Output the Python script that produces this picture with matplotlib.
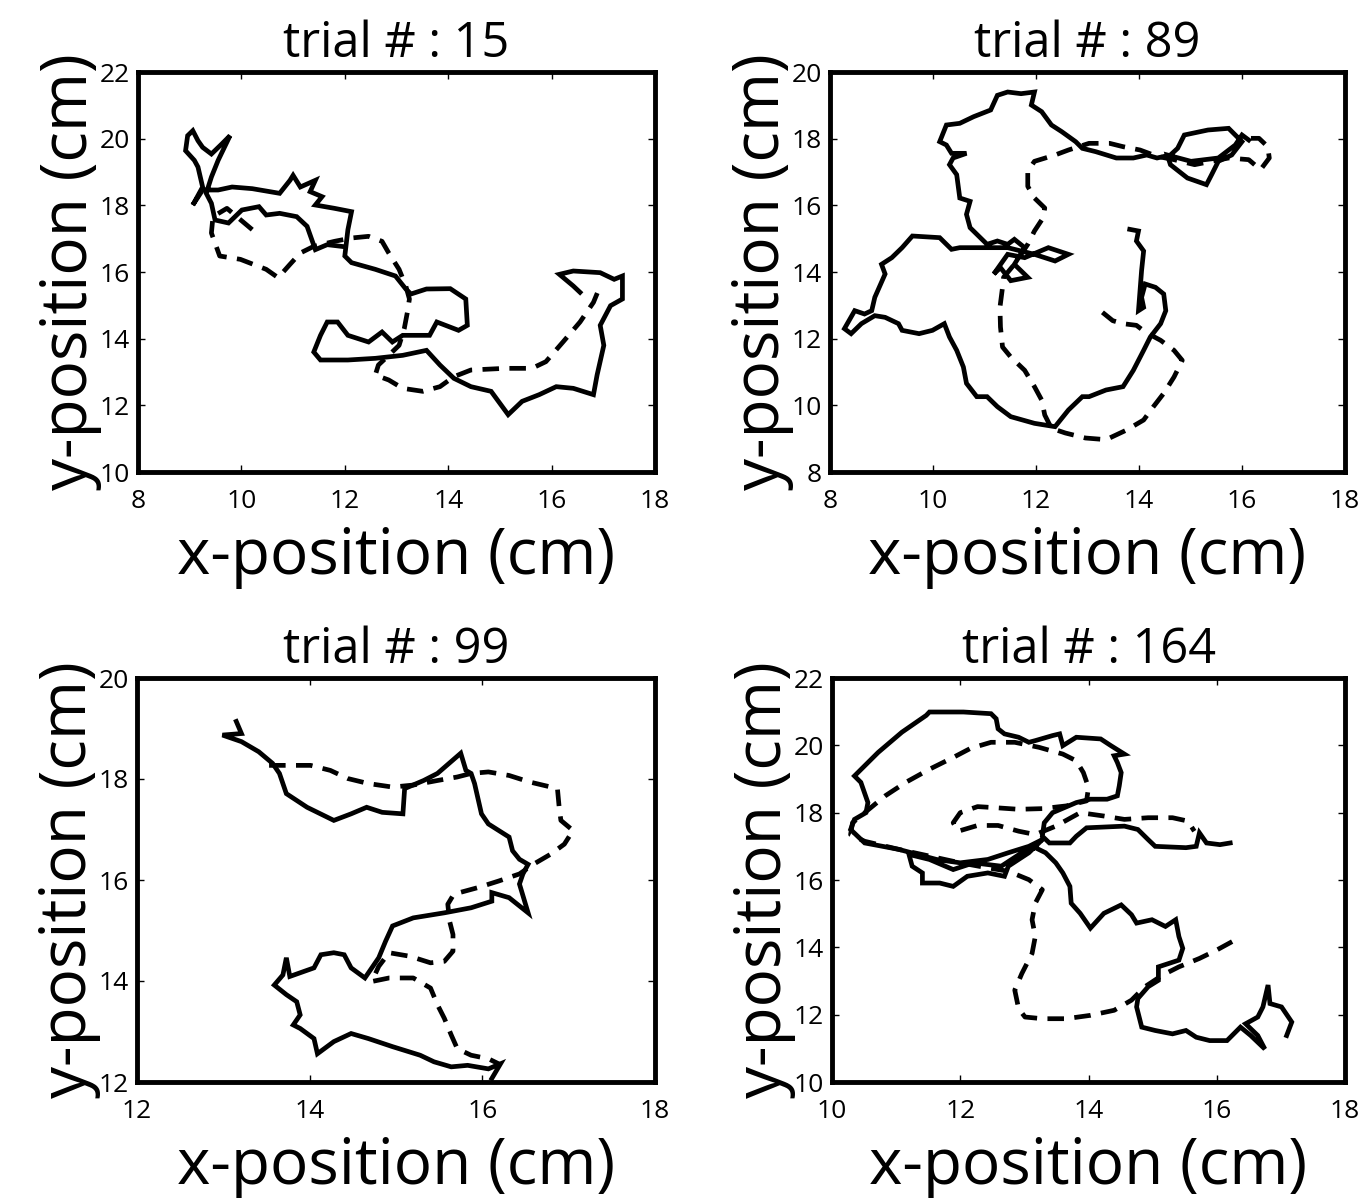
import matplotlib
matplotlib.use('Agg')
import matplotlib.pyplot as plt

plt.rcParams['font.family'] = ['Open Sans', 'DejaVu Sans']

# trial numbers and axis limits
trials = [15, 89, 99, 164]
xlims = [(8, 18), (8, 18), (12, 18), (10, 18)]
ylims = [(10, 22), (8, 20), (12, 20), (10, 22)]
xticks = [[8, 10, 12, 14, 16, 18], [8, 10, 12, 14, 16, 18], [12, 14, 16, 18], [10, 12, 14, 16, 18]]
yticks = [[10, 12, 14, 16, 18, 20, 22], [8, 10, 12, 14, 16, 18, 20], [12, 14, 16, 18, 20], [10, 12, 14, 16, 18, 20, 22]]

# trial 15
x_solid_15 = [11.93, 11.66, 11.43, 11.27, 11.07, 10.74, 10.48, 10.34, 10.01, 9.75, 9.49, 9.42,
              9.32, 9.42, 9.55, 9.78, 9.62, 9.42, 9.25, 9.16, 9.06, 8.96, 8.92, 9.09, 9.16, 9.25, 9.06,
              9.25, 9.55, 9.82, 10.21, 10.74, 10.94, 11.0, 11.14, 11.43, 11.33, 11.56, 11.43, 11.80,
              12.13, 12.06, 12.0, 12.13, 12.59, 12.98, 13.18, 13.28, 13.58, 14.04, 14.34, 14.37, 14.20,
              13.78, 13.64, 13.12, 12.92, 12.72, 12.46, 12.06, 11.86, 11.66, 11.53, 11.40, 11.53, 12.06,
              12.59, 13.12, 13.58, 13.84, 14.11, 14.44, 14.83, 15.16, 15.43, 15.76, 16.09, 16.42, 16.81,
              16.88, 17.01, 16.94, 17.14, 17.37, 17.37, 17.21, 16.94, 16.42, 16.15, 16.42, 16.55]
y_solid_15 = [16.77, 16.82, 16.67, 17.37, 17.66, 17.76, 17.71, 17.96, 17.86, 17.47, 17.56, 18.06,
              18.36, 18.85, 19.35, 20.09, 19.84, 19.54, 19.74, 19.94, 20.24, 20.09, 19.64, 19.35, 19.15, 18.55, 18.01,
              18.46, 18.46, 18.55, 18.50, 18.36, 18.75, 18.90, 18.55, 18.75, 18.41, 18.26, 18.01, 17.91,
              17.81, 17.27, 16.48, 16.28, 16.08, 15.88, 15.49, 15.34, 15.49, 15.50, 15.19, 14.40, 14.25,
              14.50, 14.10, 14.10, 13.90, 14.20, 13.90, 14.10, 14.50, 14.50, 14.10, 13.60, 13.36, 13.36,
              13.41, 13.50, 13.65, 13.21, 12.81, 12.56, 12.42, 11.72, 12.12, 12.32, 12.56, 12.51, 12.32,
              12.91, 13.80, 14.40, 14.99, 15.19, 15.88, 15.78, 15.98, 16.03, 15.93, 15.58, 15.39]
x_dash_15 = [10.21, 9.72, 9.45, 9.42, 9.58, 9.98, 10.48, 10.71, 10.94, 11.14, 11.40, 11.80, 12.13,
             12.46, 12.72, 12.85, 13.05, 13.18, 13.25, 13.21, 13.15, 13.05, 12.85, 12.65, 12.59, 12.85,
             13.12, 13.51, 13.84, 14.11, 14.44, 15.10, 15.62, 15.89, 16.22, 16.55, 16.81, 16.94]
y_dash_15 = [17.27, 17.91, 17.66, 17.17, 16.48, 16.38, 16.08, 15.83, 16.23, 16.57, 16.77, 16.92, 17.02,
             17.07, 16.92, 16.57, 16.08, 15.58, 15.19, 14.79, 14.30, 13.80, 13.50, 13.21, 12.91, 12.76,
             12.51, 12.42, 12.56, 12.86, 13.06, 13.11, 13.11, 13.31, 13.90, 14.50, 15.09, 15.58]

# trial 89
x_solid_89 = [16.13, 16.00, 15.87, 15.54, 15.01, 14.55, 14.61, 14.94, 15.31, 15.41, 15.54, 15.80, 16.00,
              15.74, 15.34, 14.88, 14.75, 14.61, 14.35, 14.15, 13.89, 13.56, 13.16, 12.90, 12.77, 12.50,
              12.30, 12.11, 11.91, 11.97, 11.71, 11.45, 11.25, 11.12, 10.79, 10.52, 10.26, 10.13, 10.26,
              10.36, 10.65, 10.39, 10.32, 10.46, 10.52, 10.72, 10.65, 10.72, 11.05, 11.25, 11.45, 11.58,
              11.78, 11.58, 11.84, 11.51, 11.31, 11.18, 11.45, 11.78, 12.24, 12.63, 12.37, 11.97, 11.45,
              11.12, 10.52, 10.36, 10.13, 9.60, 9.40, 9.20, 9.00, 9.07, 8.87, 8.81, 8.67, 8.48, 8.28, 8.41,
              8.61, 8.87, 9.07, 9.33, 9.40, 9.73, 9.99, 10.22, 10.32, 10.46, 10.59, 10.65, 10.85, 11.05,
              11.25, 11.51, 11.97, 12.37, 12.63, 12.90, 13.03, 13.36, 13.69, 13.89, 14.09, 14.22, 14.42,
              14.52, 14.48, 14.32, 14.12, 14.05, 14.09, 13.99, 14.02, 14.05, 14.09, 13.95, 13.99, 13.82]
y_solid_89 = [17.96, 18.11, 17.81, 17.42, 17.32, 17.51, 17.22, 16.82, 16.62, 16.92, 17.32, 17.51, 17.91,
              18.31, 18.26, 18.11, 17.71, 17.51, 17.42, 17.51, 17.42, 17.42, 17.61, 17.71, 17.91, 18.21,
              18.41, 18.81, 19.01, 19.40, 19.35, 19.40, 19.30, 18.86, 18.66, 18.46, 18.41, 17.91, 17.81,
              17.56, 17.56, 17.42, 17.22, 16.92, 16.22, 16.12, 15.73, 15.33, 14.83, 14.93, 14.83, 14.98,
              14.73, 14.23, 13.84, 13.74, 14.13, 13.94, 14.53, 14.43, 14.73, 14.53, 14.33, 14.53, 14.73,
              14.73, 14.73, 14.68, 15.03, 15.08, 14.73, 14.43, 14.23, 13.94, 13.24, 12.84, 12.74, 12.84, 12.30, 12.15,
              12.45, 12.69, 12.64, 12.45, 12.25, 12.15, 12.25, 12.45, 12.05, 11.65, 11.15, 10.66, 10.26, 10.26,
              9.96, 9.66, 9.46, 9.36, 9.86, 10.26, 10.26, 10.46, 10.56, 11.05, 11.65, 12.05, 12.45,
              12.84, 13.34, 13.54, 13.64, 13.24, 12.94, 12.84, 13.44, 14.04, 14.63, 14.93, 15.23, 15.28]
x_dash_89 = [13.29, 13.49, 13.69, 13.95, 14.12, 14.42, 14.68, 14.84, 14.68, 14.48, 14.28, 14.09, 13.76,
             13.36, 12.96, 12.57, 12.30, 12.17, 12.11, 11.97, 11.78, 11.51, 11.35, 11.31, 11.30, 11.35,
             11.37, 11.58, 11.84, 11.97, 12.14, 12.17, 11.97, 11.84, 11.84, 11.97, 12.37, 12.63, 13.03,
             13.43, 13.69, 14.02, 14.35, 14.68, 15.08, 15.41, 15.74, 16.13, 16.36, 16.53, 16.50, 16.33, 16.10]
y_dash_89 = [12.79, 12.54, 12.45, 12.40, 12.20, 11.95, 11.65, 11.35, 10.85, 10.36, 9.96, 9.56, 9.26,
             8.97, 9.02, 9.17, 9.31, 9.71, 10.16, 10.56, 11.05, 11.45, 11.75, 12.35, 12.94, 13.54,
             13.84, 14.23, 14.83, 15.23, 15.63, 15.92, 16.22, 16.57, 17.02, 17.32, 17.51, 17.66, 17.86,
             17.86, 17.76, 17.66, 17.47, 17.37, 17.22, 17.32, 17.42, 17.37, 17.07, 17.42, 17.76, 18.01, 18.01]

# trial 99
x_solid_99 = [13.15, 13.21, 12.99, 13.21, 13.41, 13.57, 13.65, 13.73, 13.97, 14.28, 14.48, 14.66, 14.84,
              15.08, 15.10, 15.32, 15.48, 15.75, 15.81, 15.87, 15.91, 15.99, 16.07, 16.19, 16.31, 16.35,
              16.43, 16.53, 16.47, 16.43, 16.53, 16.31, 16.11, 16.11, 15.87, 15.56, 15.20, 14.96, 14.88,
              14.80, 14.64, 14.48, 14.40, 14.28, 14.13, 14.05, 13.77, 13.73, 13.69, 13.59, 13.73, 13.85,
              13.89, 13.81, 13.89, 14.05, 14.09, 14.28, 14.48, 14.68, 14.96, 15.28, 15.44, 15.64, 15.83,
              16.07, 16.21, 16.11]
y_solid_99 = [19.14, 18.90, 18.87, 18.74, 18.54, 18.31, 18.11, 17.71, 17.44, 17.18, 17.31, 17.44, 17.34,
              17.31, 17.81, 17.97, 18.11, 18.51, 18.17, 18.11, 17.91, 17.31, 17.11, 16.98, 16.85, 16.58,
              16.41, 16.31, 16.12, 15.92, 15.35, 15.65, 15.75, 15.58, 15.45, 15.35, 15.25, 15.09, 14.79,
              14.46, 14.06, 14.26, 14.52, 14.56, 14.52, 14.26, 14.09, 14.46, 14.12, 13.92, 13.73, 13.59,
              13.33, 13.13, 13.06, 12.86, 12.56, 12.80, 12.96, 12.86, 12.70, 12.53, 12.40, 12.30, 12.33,
              12.26, 12.36, 12.07]
x_dash_99 = [13.53, 13.77, 14.01, 14.24, 14.44, 14.68, 14.96, 15.20, 15.48, 15.71, 15.87, 16.07, 16.31,
             16.55, 16.87, 16.89, 16.91, 17.05, 16.95, 16.79, 16.59, 16.43, 16.19, 15.95, 15.67, 15.60,
             15.62, 15.66, 15.66, 15.56, 15.40, 15.16, 14.92, 14.80, 14.72, 14.92, 15.20, 15.40, 15.48,
             15.56, 15.64, 15.71, 15.87, 16.07, 16.19]
y_dash_99 = [18.27, 18.27, 18.27, 18.17, 18.01, 17.91, 17.84, 17.88, 17.97, 18.04, 18.11, 18.14, 18.07,
             17.94, 17.81, 17.44, 17.18, 16.98, 16.71, 16.51, 16.31, 16.12, 15.98, 15.85, 15.72, 15.52,
             15.19, 14.92, 14.59, 14.39, 14.36, 14.49, 14.56, 14.29, 13.99, 14.06, 14.06, 13.86, 13.53,
             13.26, 12.93, 12.66, 12.53, 12.46, 12.36]

# trial 164
x_solid_164 = [16.21, 16.05, 15.84, 15.73, 15.68, 15.52, 15.04, 14.93, 14.77, 14.56, 13.97, 13.81, 13.71,
               13.39, 13.28, 13.31, 13.44, 13.81, 14.03, 14.29, 14.45, 14.48, 14.51, 14.45, 14.40, 14.56,
               14.35, 14.19, 13.81, 13.60, 13.55, 13.44, 13.17, 13.07, 12.91, 12.69, 12.59, 12.56, 12.48,
               12.05, 11.52, 11.47, 11.09, 10.72, 10.35, 10.45, 10.56, 10.53, 10.35, 10.29, 10.51, 11.04,
               11.63, 12.00, 12.43, 12.75, 13.07, 13.28, 13.07, 12.75, 12.69, 12.43, 12.11, 11.89, 11.68,
               11.41, 11.41, 11.25, 11.20, 11.52, 11.89, 12.21, 12.64, 12.96, 13.17, 13.33, 13.49, 13.60,
               13.71, 13.73, 13.87, 14.03, 14.24, 14.51, 14.67, 14.75, 14.99, 15.20, 15.36, 15.41, 15.47,
               15.41, 15.09, 15.09, 14.93, 14.77, 14.75, 14.83, 15.04, 15.31, 15.52, 15.68, 15.89, 16.16,
               16.37, 16.53, 16.75, 16.64, 16.45, 16.64, 16.72, 16.80, 16.83, 17.01, 17.17, 17.09]
y_solid_164 = [17.10, 17.05, 17.10, 17.40, 17.00, 16.96, 17.00, 17.20, 17.50, 17.60, 17.55, 17.30, 17.10,
               17.10, 17.30, 17.70, 18.00, 18.30, 18.40, 18.40, 18.50, 18.80, 19.19, 19.49, 19.69, 19.74,
               19.99, 20.19, 20.24, 19.99, 20.34, 20.29, 20.14, 20.09, 20.24, 20.34, 20.49, 20.79, 20.94,
               20.99, 20.99, 20.89, 20.39, 19.79, 19.09, 18.90, 18.30, 18.00, 17.80, 17.50, 17.10, 16.91,
               16.61, 16.51, 16.61, 16.81, 17.00, 17.20, 16.81, 16.41, 16.11, 16.21, 16.11, 15.81, 15.91,
               15.91, 16.21, 16.41, 16.76, 16.61, 16.31, 16.51, 16.41, 16.81, 16.96, 16.81, 16.51, 16.21,
               15.81, 15.31, 15.01, 14.57, 15.01, 15.26, 14.97, 14.72, 14.82, 14.62, 14.82, 14.32, 13.97,
               13.62, 13.42, 13.02, 12.83, 12.48, 12.23, 11.63, 11.53, 11.43, 11.53, 11.33, 11.23, 11.23,
               11.63, 11.38, 10.98, 11.38, 11.73, 11.93, 12.23, 12.88, 12.33, 12.23, 11.78, 11.38]
x_dash_164 = [16.24, 16.00, 15.73, 15.41, 15.15, 14.88, 14.67, 14.40, 14.03, 13.65, 13.28, 13.01, 12.91,
              12.85, 12.96, 13.12, 13.17, 13.12, 13.17, 13.28, 13.07, 12.75, 12.43, 12.00, 11.52, 11.04,
              10.51, 10.29, 10.32, 10.51, 10.83, 11.15, 11.52, 11.89, 12.16, 12.48, 12.85, 13.23, 13.60,
              13.81, 13.92, 14.00, 13.97, 13.65, 13.28, 12.91, 12.53, 12.27, 12.00, 11.89, 11.97, 12.27,
              12.59, 12.91, 13.17, 13.49, 13.87, 14.24, 14.56, 14.93, 15.31, 15.55, 15.65]
y_dash_164 = [14.17, 13.92, 13.67, 13.42, 13.17, 12.83, 12.43, 12.13, 11.98, 11.88, 11.88, 11.93, 12.18,
              12.73, 13.22, 13.82, 14.32, 14.82, 15.31, 15.71, 16.01, 16.26, 16.36, 16.51, 16.71, 16.91,
              17.15, 17.35, 17.70, 18.00, 18.50, 18.90, 19.29, 19.64, 19.91, 20.09, 20.09, 19.94, 19.74,
              19.54, 19.19, 18.75, 18.35, 18.20, 18.12, 18.10, 18.15, 18.18, 18.00, 17.70, 17.45, 17.62,
              17.62, 17.45, 17.35, 17.60, 18.00, 17.90, 17.80, 17.85, 17.85, 17.75, 17.45]

solids = [(x_solid_15, y_solid_15), (x_solid_89, y_solid_89), (x_solid_99, y_solid_99), (x_solid_164, y_solid_164)]
dashes = [(x_dash_15, y_dash_15), (x_dash_89, y_dash_89), (x_dash_99, y_dash_99), (x_dash_164, y_dash_164)]

W, H = 1370, 1198
fig = plt.figure(figsize=(W / 100, H / 100), dpi=100)

# axes boxes in pixels: left, right, top, bottom
boxes = [(138, 655, 72, 472), (830, 1345, 72, 472), (137, 655, 678, 1082), (832, 1345, 678, 1082)]

for i in range(4):
    l, r, t, b = boxes[i]
    ax = fig.add_axes([l / W, (H - b) / H, (r - l) / W, (b - t) / H])
    ax.plot(*solids[i], color='black', lw=3.4, solid_joinstyle='miter')
    ax.plot(*dashes[i], color='black', lw=3.4, ls='--', dashes=(3.5, 2.2))
    ax.set_xlim(*xlims[i])
    ax.set_ylim(*ylims[i])
    ax.set_xticks(xticks[i])
    ax.set_yticks(yticks[i])
    ax.tick_params(direction='in', length=5, width=1, labelsize=19, top=True, right=True, pad=12)
    ax.tick_params(axis='y', pad=6)
    for s in ax.spines.values():
        s.set_linewidth(3.5)
    ax.set_title('trial # : %d' % trials[i], fontsize=35, pad=11)
    ax.set_xlabel('x-position (cm)', fontsize=46, labelpad=8)
    ax.set_ylabel('y-position (cm)', fontsize=46, labelpad=-2)

fig.savefig('out.png', dpi=100)
